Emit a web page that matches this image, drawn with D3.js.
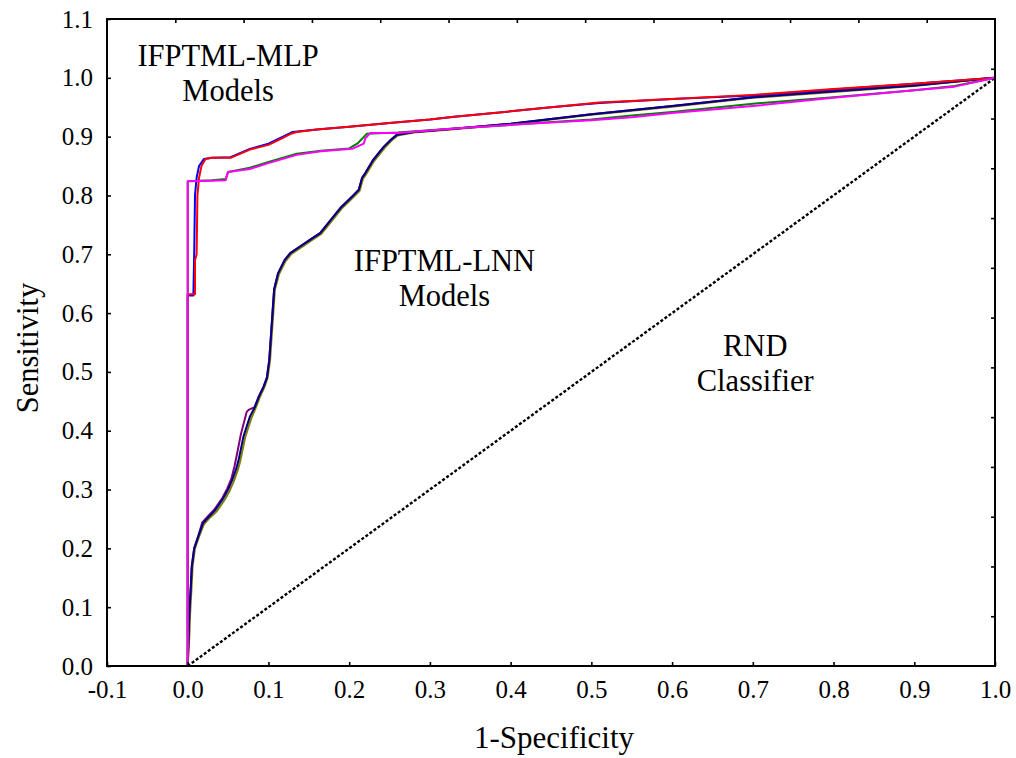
<!DOCTYPE html>
<html>
<head>
<meta charset="utf-8">
<script src="https://cdn.jsdelivr.net/npm/d3@7"></script>
<style>
  html, body { margin: 0; padding: 0; background: #fff; }
  svg { display: block; }
  text { font-family: "Liberation Serif", "Times New Roman", serif; fill: #000; }
</style>
</head>
<body>
<svg id="chart" width="1016" height="758"></svg>
<script>
// ROC curves: [1-specificity, sensitivity]
const mlpRed = [[0,0],[0,0.632],[0.009,0.632],[0.009,0.69],[0.011,0.70],[0.012,0.80],[0.014,0.83],[0.017,0.85],[0.022,0.862],[0.03,0.864],[0.053,0.864],[0.077,0.878],[0.1,0.886],[0.118,0.898],[0.128,0.905],[0.135,0.908],[0.16,0.912],[0.2,0.917],[0.25,0.923],[0.3,0.929],[0.33,0.934],[0.4,0.943],[0.45,0.95],[0.51,0.958],[0.6,0.964],[0.7,0.971],[0.8,0.981],[0.9,0.99],[1,1]];
const mlpBlue = [[0,0],[0,0.63],[0.007,0.63],[0.008,0.70],[0.009,0.80],[0.011,0.83],[0.014,0.85],[0.02,0.862],[0.03,0.864],[0.053,0.865],[0.077,0.879],[0.1,0.888],[0.118,0.9],[0.13,0.908],[0.16,0.912],[0.2,0.917],[0.25,0.923],[0.3,0.929],[0.33,0.934],[0.4,0.943],[0.45,0.95],[0.51,0.957],[0.6,0.964],[0.7,0.97],[0.8,0.98],[0.9,0.99],[1,1]];
const mlpGreen = [[0,0],[0,0.824],[0.03,0.826],[0.047,0.828],[0.05,0.84],[0.077,0.847],[0.1,0.857],[0.135,0.871],[0.165,0.876],[0.2,0.88],[0.21,0.888],[0.222,0.905],[0.26,0.907],[0.33,0.914],[0.4,0.92],[0.5,0.929],[0.55,0.936],[0.6,0.942],[0.7,0.956],[0.8,0.967],[0.9,0.979],[0.95,0.986],[1,1]];
const mlpMagenta = [[0,0],[0,0.824],[0.03,0.825],[0.047,0.826],[0.05,0.84],[0.077,0.845],[0.1,0.855],[0.135,0.869],[0.165,0.875],[0.2,0.879],[0.205,0.88],[0.218,0.888],[0.22,0.897],[0.226,0.906],[0.26,0.906],[0.33,0.914],[0.4,0.92],[0.5,0.928],[0.55,0.933],[0.6,0.94],[0.7,0.952],[0.8,0.966],[0.9,0.979],[0.95,0.985],[1,1]];
const lnnNavy = [[0,0],[0.001,0.05],[0.002,0.09],[0.004,0.14],[0.005,0.169],[0.008,0.2],[0.013,0.22],[0.019,0.243],[0.027,0.255],[0.034,0.265],[0.044,0.285],[0.05,0.3],[0.055,0.316],[0.06,0.335],[0.063,0.35],[0.069,0.39],[0.077,0.424],[0.083,0.44],[0.088,0.458],[0.094,0.475],[0.098,0.49],[0.101,0.52],[0.103,0.56],[0.105,0.6],[0.107,0.64],[0.112,0.668],[0.12,0.69],[0.127,0.702],[0.14,0.714],[0.155,0.728],[0.164,0.736],[0.177,0.758],[0.19,0.78],[0.205,0.8],[0.212,0.81],[0.216,0.83],[0.22,0.838],[0.23,0.861],[0.243,0.883],[0.252,0.895],[0.259,0.903],[0.28,0.908],[0.326,0.913],[0.4,0.922],[0.45,0.93],[0.5,0.938],[0.6,0.952],[0.7,0.967],[0.8,0.977],[0.9,0.987],[1,1]];
const lnnOlive = [[0,0],[0.002,0.05],[0.003,0.09],[0.005,0.14],[0.006,0.169],[0.009,0.2],[0.014,0.22],[0.02,0.241],[0.028,0.253],[0.036,0.263],[0.046,0.283],[0.052,0.298],[0.057,0.314],[0.062,0.333],[0.065,0.348],[0.071,0.388],[0.079,0.422],[0.084,0.438],[0.089,0.456],[0.095,0.474],[0.099,0.49],[0.102,0.52],[0.104,0.56],[0.106,0.6],[0.108,0.64],[0.113,0.666],[0.121,0.688],[0.128,0.7],[0.141,0.712],[0.156,0.726],[0.165,0.734],[0.178,0.756],[0.191,0.778],[0.206,0.798],[0.213,0.808],[0.217,0.828],[0.221,0.836],[0.231,0.859],[0.244,0.881],[0.253,0.894],[0.26,0.902],[0.28,0.907],[0.326,0.912],[0.4,0.921],[0.45,0.929],[0.5,0.937],[0.6,0.951],[0.7,0.966],[0.8,0.976],[0.9,0.986],[1,1]];
const lnnPurple = [[0,0],[0.001,0.05],[0.002,0.09],[0.004,0.14],[0.005,0.17],[0.008,0.2],[0.013,0.221],[0.018,0.244],[0.026,0.256],[0.033,0.266],[0.043,0.286],[0.049,0.302],[0.054,0.318],[0.058,0.34],[0.061,0.36],[0.066,0.395],[0.073,0.432],[0.076,0.436],[0.083,0.44],[0.088,0.458],[0.094,0.475],[0.098,0.49],[0.101,0.52],[0.103,0.56],[0.105,0.6],[0.107,0.64],[0.112,0.668],[0.12,0.69],[0.127,0.702],[0.14,0.714],[0.155,0.728],[0.164,0.736],[0.177,0.758],[0.19,0.78],[0.205,0.8],[0.212,0.81],[0.216,0.83],[0.22,0.838],[0.23,0.861],[0.243,0.883],[0.252,0.895],[0.259,0.903],[0.28,0.908],[0.326,0.913],[0.4,0.922],[0.45,0.93],[0.5,0.938],[0.6,0.952],[0.7,0.967],[0.8,0.977],[0.9,0.987],[1,1]];
const randomClassifier = [[0,0],[1,1]];

const xTickValues = [-0.1,0,0.1,0.2,0.3,0.4,0.5,0.6,0.7,0.8,0.9,1.0];
const xTickLabels = ["-0.1","0.0","0.1","0.2","0.3","0.4","0.5","0.6","0.7","0.8","0.9","1.0"];
const yTickValues = [0,0.1,0.2,0.3,0.4,0.5,0.6,0.7,0.8,0.9,1.0,1.1];
const yTickLabels = ["0.0","0.1","0.2","0.3","0.4","0.5","0.6","0.7","0.8","0.9","1.0","1.1"];
const annotations = [
  { lines: ["IFPTML-MLP", "Models"], x: 0.05, y: 1.02 },
  { lines: ["IFPTML-LNN", "Models"], x: 0.318, y: 0.671 },
  { lines: ["RND", "Classifier"], x: 0.703, y: 0.5265 }
];

const svg = d3.select("#chart");
const plotLeft = 107, plotRight = 995, plotTop = 19, plotBottom = 666;

const x = d3.scaleLinear().domain([-0.1, 1.0]).range([plotLeft, plotRight]);
const y = d3.scaleLinear().domain([0, 1.1]).range([plotBottom, plotTop]);
// secondary frame ticks (top/right) divide the box in 13 equal parts
const frameX = d3.scaleLinear().domain([0, 13]).range([plotLeft, plotRight]);
const frameY = d3.scaleLinear().domain([0, 13]).range([plotBottom, plotTop]);

const line = d3.line().x(d => x(d[0])).y(d => y(d[1]));

// diagonal reference
svg.append("path")
  .attr("d", line(randomClassifier))
  .attr("fill", "none").attr("stroke", "#000")
  .attr("stroke-width", 2.4).attr("stroke-dasharray", "3,2");

const series = [
  { data: lnnOlive, color: "#808000" },
  { data: lnnPurple, color: "#800080" },
  { data: lnnNavy, color: "#000080" },
  { data: mlpBlue, color: "#0000ff" },
  { data: mlpRed, color: "#ff0000" },
  { data: mlpGreen, color: "#008000" },
  { data: mlpMagenta, color: "#ff00ff" }
];
svg.append("g").selectAll("path").data(series).join("path")
  .attr("d", d => line(d.data))
  .attr("fill", "none")
  .attr("stroke", d => d.color)
  .attr("stroke-width", 2)
  .attr("stroke-linejoin", "round");

// axes with inward ticks
const tickLen = 4;
const xAxis = d3.axisBottom(x).tickValues(xTickValues)
  .tickFormat((d, i) => xTickLabels[i]).tickSize(-tickLen).tickPadding(14);
const yAxis = d3.axisLeft(y).tickValues(yTickValues)
  .tickFormat((d, i) => yTickLabels[i]).tickSize(-tickLen).tickPadding(14);
const topAxis = d3.axisTop(frameX).tickValues(d3.range(1, 13))
  .tickFormat("").tickSize(-tickLen);
const rightAxis = d3.axisRight(frameY).tickValues(d3.range(1, 13))
  .tickFormat("").tickSize(-tickLen);

function styleAxis(g) {
  g.select(".domain").remove();
  g.selectAll(".tick line").attr("stroke", "#000").attr("stroke-width", 1.6);
  g.selectAll(".tick text").style("font-size", "25px").style("font-family", '"Liberation Serif", serif').attr("fill", "#000");
}
svg.append("g").attr("transform", `translate(0,${plotBottom})`).call(xAxis).call(styleAxis);
svg.append("g").attr("transform", `translate(${plotLeft},0)`).call(yAxis).call(styleAxis);
svg.append("g").attr("transform", `translate(0,${plotTop})`).call(topAxis).call(styleAxis);
svg.append("g").attr("transform", `translate(${plotRight},0)`).call(rightAxis).call(styleAxis);

// plot frame
svg.append("rect")
  .attr("x", plotLeft).attr("y", plotTop)
  .attr("width", plotRight - plotLeft).attr("height", plotBottom - plotTop)
  .attr("fill", "none").attr("stroke", "#000").attr("stroke-width", 2);

// axis titles
svg.append("text")
  .attr("x", 554).attr("y", 748)
  .attr("text-anchor", "middle").style("font-size", "31px")
  .text("1-Specificity");
svg.append("text")
  .attr("transform", `translate(38,348) rotate(-90)`)
  .attr("text-anchor", "middle").style("font-size", "30.5px")
  .text("Sensitivity");

// annotations
annotations.forEach(a => {
  const t = svg.append("text")
    .attr("x", x(a.x)).attr("y", y(a.y))
    .attr("text-anchor", "middle").style("font-size", "30.5px");
  a.lines.forEach((s, i) => {
    t.append("tspan").attr("x", x(a.x)).attr("dy", i === 0 ? 0 : 35).text(s);
  });
});
</script>
</body>
</html>
